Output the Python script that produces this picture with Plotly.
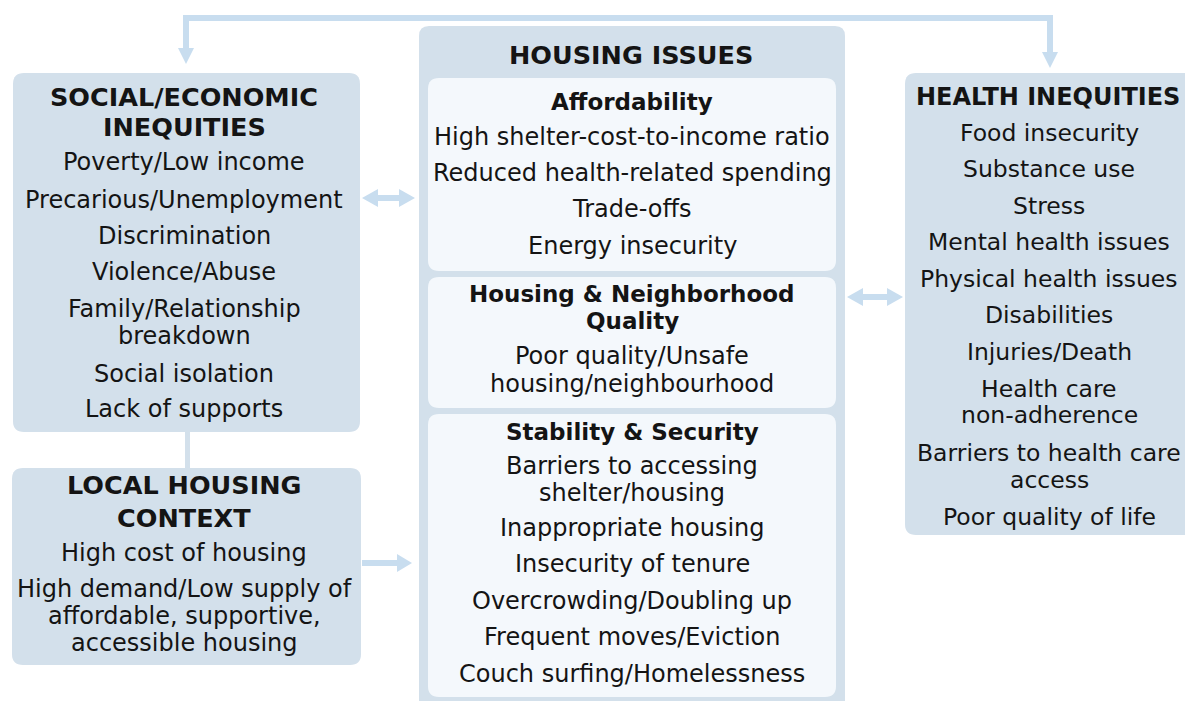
import plotly.graph_objects as go

# ---------------- data (text content) ----------------
social_title = ["SOCIAL/ECONOMIC", "INEQUITIES"]
social_title_y = [97, 127]
social_items = ["Poverty/Low income", "Precarious/Unemployment", "Discrimination",
                "Violence/Abuse", "Family/Relationship", "breakdown",
                "Social isolation", "Lack of supports"]
social_items_y = [162, 200, 236, 272, 309, 336, 374, 409]

local_title = ["LOCAL HOUSING", "CONTEXT"]
local_title_y = [485, 518]
local_items = ["High cost of housing", "High demand/Low supply of",
               "affordable, supportive,", "accessible housing"]
local_items_y = [553, 589, 616, 643]

housing_title = ["HOUSING ISSUES"]
housing_title_y = [55]
afford_head = ["Affordability"]
afford_head_y = [102]
afford_items = ["High shelter-cost-to-income ratio", "Reduced health-related spending",
                "Trade-offs", "Energy insecurity"]
afford_items_y = [137, 173, 209, 246]
quality_head = ["Housing & Neighborhood", "Quality"]
quality_head_y = [294, 321]
quality_items = ["Poor quality/Unsafe", "housing/neighbourhood"]
quality_items_y = [356, 384]
stab_head = ["Stability & Security"]
stab_head_y = [432]
stab_items = ["Barriers to accessing", "shelter/housing", "Inappropriate housing",
              "Insecurity of tenure", "Overcrowding/Doubling up",
              "Frequent moves/Eviction", "Couch surfing/Homelessness"]
stab_items_y = [466, 493, 528, 564, 601, 637, 674]

health_title = ["HEALTH INEQUITIES"]
health_title_y = [97]
health_items = ["Food insecurity", "Substance use", "Stress", "Mental health issues",
                "Physical health issues", "Disabilities", "Injuries/Death",
                "Health care", "non-adherence", "Barriers to health care",
                "access", "Poor quality of life"]
health_items_y = [133, 169, 206, 242, 279, 315, 352, 389, 415, 453, 480, 517]

# ---------------- styles ----------------
W, H = 1185, 701
BOX = "#d3e0eb"
INNER = "#f4f8fc"
ARROW = "#c8ddef"
TXT = "#141414"
FONT = "DejaVu Sans"

fig = go.Figure()


def rrect(x0, y0, x1, y1, r, fill):
    p = (f"M {x0+r},{y0} L {x1-r},{y0} Q {x1},{y0} {x1},{y0+r} L {x1},{y1-r} "
         f"Q {x1},{y1} {x1-r},{y1} L {x0+r},{y1} Q {x0},{y1} {x0},{y1-r} "
         f"L {x0},{y0+r} Q {x0},{y0} {x0+r},{y0} Z")
    fig.add_shape(type="path", path=p, xref="x", yref="y", fillcolor=fill,
                  line=dict(width=0), layer="below")


def rect(x0, y0, x1, y1, fill):
    fig.add_shape(type="rect", x0=x0, y0=y0, x1=x1, y1=y1, xref="x", yref="y",
                  fillcolor=fill, line=dict(width=0), layer="below")


def tri(pts, fill):
    p = "M " + " L ".join(f"{x},{y}" for x, y in pts) + " Z"
    fig.add_shape(type="path", path=p, xref="x", yref="y", fillcolor=fill,
                  line=dict(width=0), layer="below")


# boxes
rrect(13, 73, 360, 432, 11, BOX)
rect(185, 430, 190, 470, BOX)
rrect(12, 468, 361, 665, 11, BOX)
rrect(419, 26, 845, 716, 10, BOX)
rrect(428, 78, 836, 271, 11, INNER)
rrect(428, 277, 836, 408, 11, INNER)
rrect(428, 414, 836, 697, 11, INNER)
rrect(905, 73, 1210, 535, 11, BOX)

# top feedback arrow
rect(183, 15, 1053, 21, ARROW)
rect(183, 15, 189, 50, ARROW)
tri([(178, 48), (194, 48), (186, 64)], ARROW)
rect(1047, 15, 1053, 54, ARROW)
tri([(1042, 52), (1058, 52), (1050, 68)], ARROW)

# double arrow left
rect(375, 195, 403, 201, ARROW)
tri([(362, 198), (378, 189), (378, 207)], ARROW)
tri([(415, 198), (399, 189), (399, 207)], ARROW)
# double arrow right
rect(860, 294, 890, 300, ARROW)
tri([(847, 297), (863, 288), (863, 306)], ARROW)
tri([(903, 297), (887, 288), (887, 306)], ARROW)
# single arrow from local housing
rect(362, 560, 400, 566, ARROW)
tri([(412, 563), (397, 554), (397, 572)], ARROW)


def texts(lines, ys, x, size, bold=False):
    for t, y in zip(lines, ys):
        fig.add_annotation(x=x, y=y, xref="x", yref="y", text=(f"<b>{t}</b>" if bold else t),
                           showarrow=False, xanchor="center", yanchor="middle",
                           font=dict(family=FONT, size=size, color=TXT))


texts(social_title, social_title_y, 184, 25.5, True)
texts(social_items, social_items_y, 184, 24)
texts(local_title, local_title_y, 184, 25.5, True)
texts(local_items, local_items_y, 184, 24)
texts(housing_title, housing_title_y, 631, 25.5, True)
texts(afford_head, afford_head_y, 632, 23, True)
texts(afford_items, afford_items_y, 632, 24)
texts(quality_head, quality_head_y, 632, 23, True)
texts(quality_items, quality_items_y, 632, 24)
texts(stab_head, stab_head_y, 632, 23, True)
texts(stab_items, stab_items_y, 632, 24)
texts(health_title, health_title_y, 1048, 24, True)
texts(health_items, health_items_y, 1049, 23.5)

fig.update_layout(
    width=W, height=H, margin=dict(l=0, r=0, t=0, b=0),
    paper_bgcolor="white", plot_bgcolor="white", showlegend=False,
    xaxis=dict(range=[0, W], visible=False, fixedrange=True),
    yaxis=dict(range=[H, 0], visible=False, fixedrange=True),
)

fig.write_html("out.html", config={"displayModeBar": False},
               post_script="document.body.style.margin='0';document.body.style.overflow='hidden';")
